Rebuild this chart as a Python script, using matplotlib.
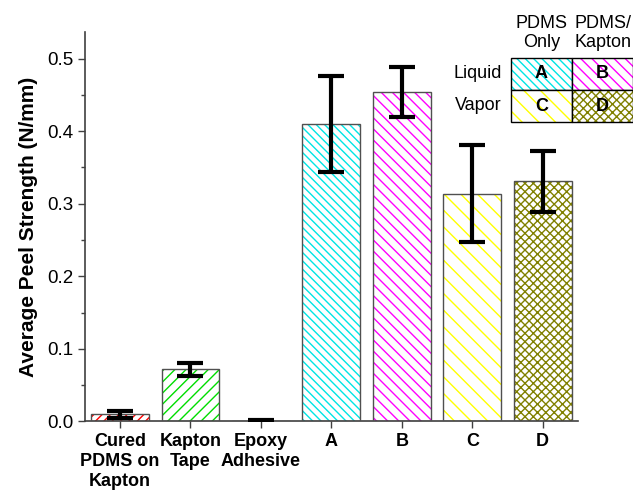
import matplotlib.pyplot as plt
from matplotlib.patches import Rectangle

plt.rcParams['font.family'] = ['Liberation Sans', 'DejaVu Sans']
plt.rcParams['hatch.linewidth'] = 1.0

# Peel test results
categories = ['Cured\nPDMS on\nKapton', 'Kapton\nTape', 'Epoxy\nAdhesive', 'A', 'B', 'C', 'D']
peel_mean = [0.010, 0.072, 0.001, 0.410, 0.454, 0.314, 0.331]
peel_err = [0.005, 0.009, 0.001, 0.066, 0.035, 0.067, 0.042]
hatch_colors = ['#ff0000', '#00dd00', '#808080', '#00e5e5', '#ff00ff', '#ffff00', '#808000']
hatches = ['////', '///', '', '\\\\\\\\', '\\\\\\', '\\\\', 'xxxx']

fig = plt.figure(figsize=(6.33, 4.97), dpi=100)
ax = fig.add_axes([0.134, 0.152, 0.779, 0.784])

x = list(range(1, len(categories) + 1))
# hatch layer, then outline on top
ax.bar(x, peel_mean, width=0.82, color='white', edgecolor=hatch_colors,
       hatch=hatches, linewidth=0, zorder=2)
ax.bar(x, peel_mean, width=0.82, color='none', edgecolor='#505050',
       linewidth=1.0, zorder=3)
ax.errorbar(x, peel_mean, yerr=peel_err, fmt='none', ecolor='black',
            elinewidth=3, capsize=9.5, capthick=3, zorder=4)

ax.set_xlim(0.5, 7.5)
ax.set_ylim(0, 0.537)
ax.set_xticks(x)
ax.set_xticklabels(categories, fontsize=13, fontweight='bold', linespacing=1.25)
ax.set_yticks([0.0, 0.1, 0.2, 0.3, 0.4, 0.5])
ax.set_yticklabels(['0.0', '0.1', '0.2', '0.3', '0.4', '0.5'], fontsize=13.5)
ax.set_yticks([0.05, 0.15, 0.25, 0.35, 0.45], minor=True)
ax.tick_params(axis='both', which='major', length=5, width=1, color='#404040', pad=3)
ax.tick_params(axis='y', which='minor', length=3, width=1, color='#404040')
ax.set_ylabel('Average Peel Strength (N/mm)', fontsize=15, fontweight='bold', labelpad=7)
for side in ['top', 'right']:
    ax.spines[side].set_visible(False)
for side in ['left', 'bottom']:
    ax.spines[side].set_color('#404040')
    ax.spines[side].set_linewidth(1.2)

# key table for sample codes
cells = [('A', 0, 0), ('B', 1, 0), ('C', 0, 1), ('D', 1, 1)]
x0, cw = 511 / 633, 61 / 633
y0, ch = 1 - 58 / 497, 32 / 497
for label, col, row in cells:
    i = categories.index(label)
    rx, ry = x0 + col * cw, y0 - (row + 1) * ch
    fig.patches.append(Rectangle((rx, ry), cw, ch, transform=fig.transFigure,
                                 facecolor='white', edgecolor=hatch_colors[i],
                                 hatch=hatches[i], linewidth=0))
    fig.patches.append(Rectangle((rx, ry), cw, ch, transform=fig.transFigure,
                                 facecolor='none', edgecolor='black', linewidth=1))
    fig.text(rx + cw / 2, ry + ch / 2, label, ha='center', va='center',
             fontsize=13, fontweight='bold')
fig.text(x0 + cw / 2, 1 - 33 / 497, 'PDMS\nOnly', ha='center', va='center',
         fontsize=13, linespacing=1.15)
fig.text(x0 + 1.5 * cw, 1 - 33 / 497, 'PDMS/\nKapton', ha='center', va='center',
         fontsize=13, linespacing=1.15)
fig.text(x0 - 9 / 633, y0 - ch / 2, 'Liquid', ha='right', va='center', fontsize=13)
fig.text(x0 - 9 / 633, y0 - 1.5 * ch, 'Vapor', ha='right', va='center', fontsize=13)

fig.savefig('out.png', dpi=100)
